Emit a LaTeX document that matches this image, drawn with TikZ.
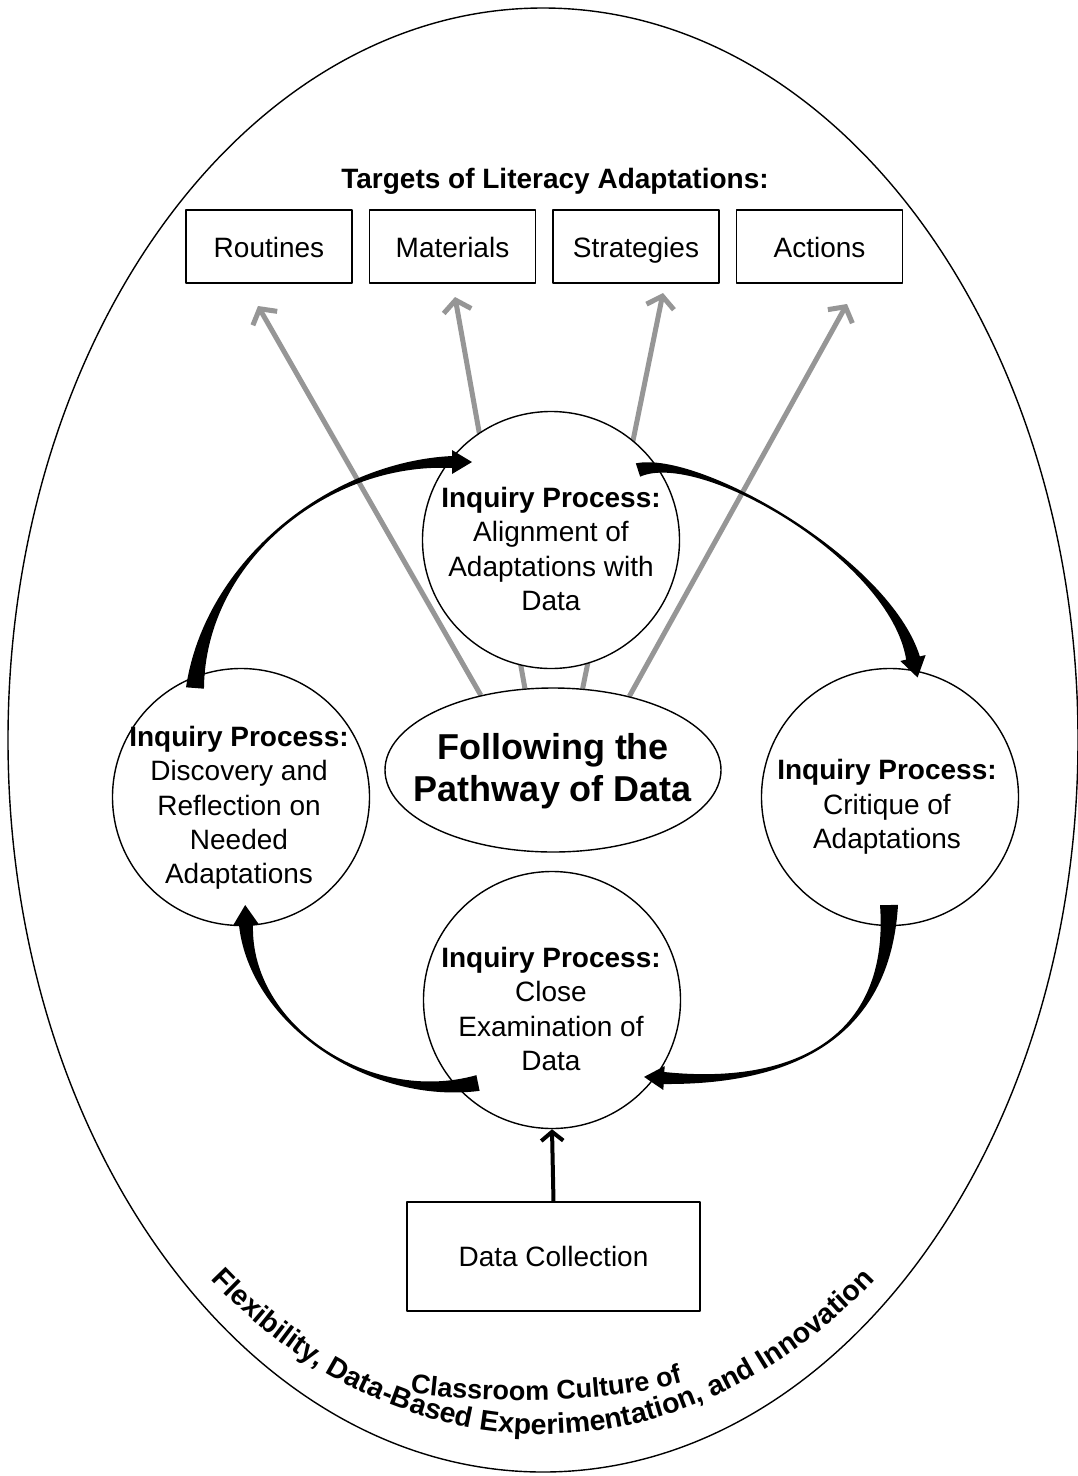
\documentclass[tikz,border=0pt]{standalone}
\usepackage{fontspec}
\setmainfont{Liberation Sans}
\usetikzlibrary{arrows.meta,calc,shapes.geometric,decorations.text}
\pgfdeclarelayer{behind}
\pgfsetlayers{behind,main}
\definecolor{arrowgray}{RGB}{150,150,150}
\newcommand{\tkfs}{\fontsize{28}{34.3}\selectfont}
\newcommand{\tkbig}{\fontsize{36}{42}\selectfont\bfseries}
\newcommand{\tkarcA}{\fontsize{28.5}{28.5}\selectfont\bfseries}
\newcommand{\tkarcB}{\fontsize{27}{27}\selectfont\bfseries}
% #1 tail, #2 ctrl1, #3 ctrl2, #4 head base, #5 tail half width, #6 head band half width, #7 barb half width, #8 head length
\newcommand{\fatarrow}[8]{%
 \fill[black] ($(#1)!#5!90:(#2)$) .. controls (#2) and (#3) .. ($(#4)!#6!-90:(#3)$)
   -- ($(#4)!#7!-90:(#3)$) -- ($(#4)!-#8!(#3)$) -- ($(#4)!#7!90:(#3)$)
   -- ($(#4)!#6!90:(#3)$) .. controls (#3) and (#2) .. ($(#1)!#5!-90:(#2)$) -- cycle;}
\tikzset{
 boxnode/.style={draw, line width=1.3pt, minimum width=166pt, minimum height=73pt, inner sep=0pt, text height=22pt, text depth=0pt, font=\tkfs},
 proc/.style={circle, draw, line width=1.4pt, fill=white, minimum size=257pt, inner sep=0pt},
 proclabel/.style={align=center, font=\tkfs, inner sep=0pt},
 grayarrow/.style={draw=arrowgray, line width=5pt, -{Straight Barb[length=11pt,width=28pt]}},
 dataarrow/.style={draw=black, line width=4pt, -{Straight Barb[length=9pt,width=22pt]}},
}
\begin{document}
\begin{tikzpicture}[x=1pt, y=-1pt, line join=round]
\begin{pgfonlayer}{behind}
\fill[white] (0,0) rectangle (1078,1476);
\end{pgfonlayer}
\useasboundingbox (0,0) rectangle (1078,1476);

% outer ellipse
\draw[line width=1.4pt] (543,740) ellipse [x radius=535pt, y radius=732pt];

% title and targets
\node[font=\tkfs\bfseries, inner sep=0pt] (title) at (555,181) {Targets of Literacy Adaptations:};
\node[boxnode] (routines) at (269,246.5) {Routines};
\node[boxnode] (materials) at (452.5,246.5) {Materials};
\node[boxnode] (strategies) at (636,246.5) {Strategies};
\node[boxnode] (actions) at (819.5,246.5) {Actions};

% process circles
\node[proc] (top) at (551,540) {};
\node[proc] (left) at (241,797) {};
\node[proc] (right) at (890,797) {};
\node[proc] (bot) at (552,1000) {};
\node[ellipse, draw, line width=1.4pt, fill=white, minimum width=336pt, minimum height=164pt, inner sep=0pt] (path) at (553,770) {};

\node[proclabel] (toplabel) at (551,549) {\textbf{Inquiry Process:}\\Alignment of\\Adaptations with\\Data};
\node[proclabel] (leftlabel) at (239,808) {\textbf{Inquiry Process:}\\Discovery and\\Reflection on\\Needed\\Adaptations};
\node[proclabel] (rightlabel) at (887,807) {\textbf{Inquiry Process:}\\Critique of\\Adaptations};
\node[proclabel] (botlabel) at (551,1009) {\textbf{Inquiry Process:}\\Close\\Examination of\\Data};
\node[align=center, font=\tkbig, inner sep=0pt] (pathlabel) at (553,771) {Following the\\Pathway of Data};

% gray arrows behind the circles
\coordinate (t1) at (258,306);
\coordinate (t2) at (455,297);
\coordinate (t3) at (663,293);
\coordinate (t4) at (847,304);
\begin{pgfonlayer}{behind}
\draw[grayarrow] (path.134) -- (t1);
\draw[grayarrow] (path.109) -- (t2);
\draw[grayarrow] (path.70) -- (t3);
\draw[grayarrow] (path.44) -- (t4);
\end{pgfonlayer}

% curved cycle arrows
\coordinate (a1s) at (195,688); \coordinate (a1c) at (205,560); \coordinate (a1d) at (330,462); \coordinate (a1e) at (452,462);
\coordinate (a2s) at (638,470); \coordinate (a2c) at (700,450); \coordinate (a2d) at (890,560); \coordinate (a2e) at (913,658);
\coordinate (a3s) at (889,905); \coordinate (a3c) at (890,1040); \coordinate (a3d) at (790,1085); \coordinate (a3e) at (664,1078);
\coordinate (a4s) at (478,1083); \coordinate (a4c) at (370,1105); \coordinate (a4d) at (250,1025); \coordinate (a4e) at (246,925);
\fatarrow{a1s}{a1c}{a1d}{a1e}{9pt}{6pt}{12pt}{20pt}
\fatarrow{a2s}{a2c}{a2d}{a2e}{7pt}{7pt}{13pt}{20pt}
\fatarrow{a3s}{a3c}{a3d}{a3e}{9pt}{6pt}{12pt}{20pt}
\fatarrow{a4s}{a4c}{a4d}{a4e}{8pt}{7pt}{13pt}{20pt}

% data collection
\node[draw, line width=1.3pt, minimum width=293pt, minimum height=109pt, inner sep=0pt, font=\tkfs] (dc) at (553.5,1256.5) {Data Collection};
\draw[dataarrow] (dc.north) -- (bot.south);

% curved culture text
\path[decorate, decoration={text along path, text={|\tkarcA|Flexibility, Data-Based Experimentation, and Innovation}, text align=center}]
  (543,740) ++(200:528pt and 694pt) arc[start angle=200, end angle=340, x radius=528pt, y radius=694pt];
\path[decorate, decoration={text along path, text={|\tkarcB|Classroom Culture of}, text align=center}]
  (392,1390) .. controls (470,1404) and (620,1407) .. (700,1376);
\end{tikzpicture}
\end{document}
